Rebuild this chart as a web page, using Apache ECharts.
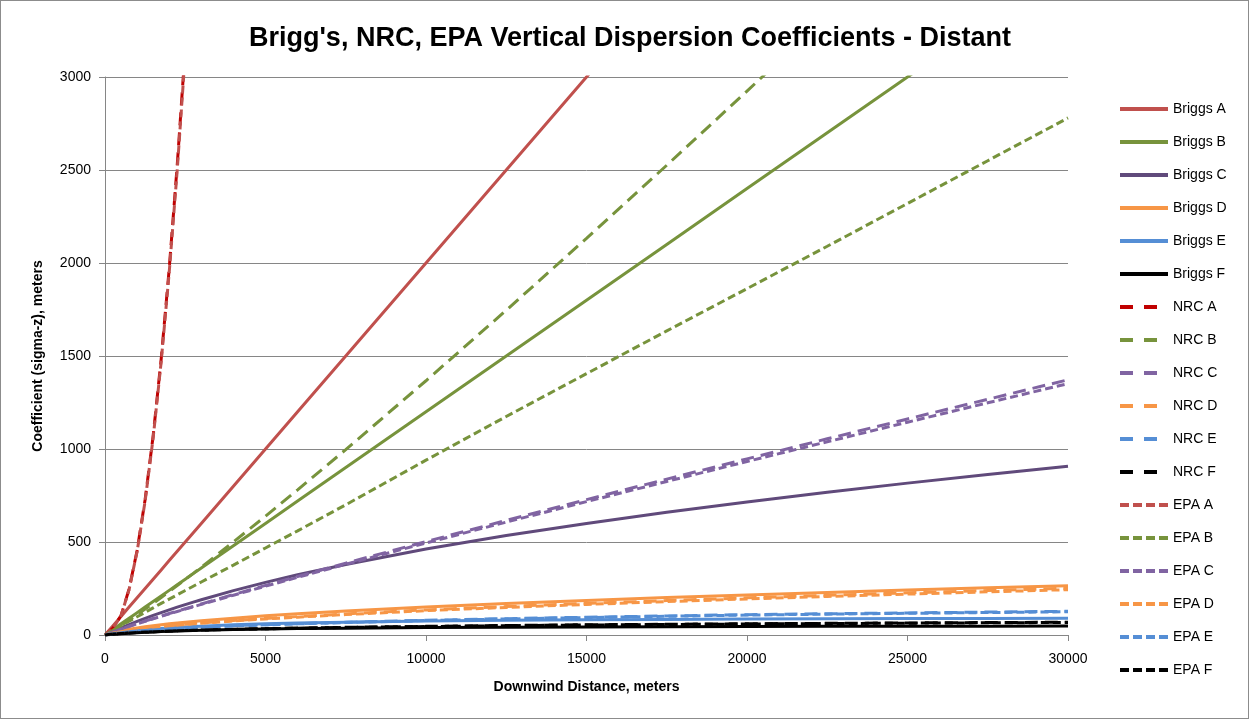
<!DOCTYPE html>
<html>
<head>
<meta charset="utf-8">
<script src="https://cdn.jsdelivr.net/npm/echarts@6/dist/echarts.min.js"></script>
<style>
html,body{margin:0;padding:0;background:#fff;}
#chart{width:1247px;height:717px;border:1px solid #8c8c8c;}
</style>
</head>
<body>
<div id="chart"></div>
<script>
const distance = [0,100,250,500,750,1000,1250,1500,1750,2000,2250,2500,2750,3000,4000,5000,6000,7500,10000,12500,15000,17500,20000,22500,25000,27500,30000];

const briggsA = [0,20,50,100,150,200,250,300,350,400,450,500,550,600,800,1000,1200,1500,2000,2500,3000,3500,null,null,null,null,null];
const briggsB = [0,12,30,60,90,120,150,180,210,240,270,300,330,360,480,600,720,900,1200,1500,1800,2100,2400,2700,3000,3300,3600];
const briggsC = [0,7.9,19.5,38.1,55.9,73.0,89.4,105.2,120.5,135.2,149.5,163.3,176.7,189.7,238.5,282.8,323.6,379.5,461.9,534.5,600.0,660.0,715.5,767.5,816.5,862.9,907.1];
const briggsD = [0,5.6,12.8,22.7,30.9,37.9,44.2,49.9,55.1,60.0,64.5,68.8,72.9,76.8,90.7,102.9,113.8,128.6,150.0,168.8,185.7,201.1,215.5,229.0,241.7,253.8,265.4];
const briggsE = [0,2.9,7.0,13.0,18.4,23.1,27.3,31.0,34.4,37.5,40.3,42.9,45.2,47.4,54.5,60.0,64.3,69.2,75.0,78.9,81.8,84.0,85.7,87.1,88.2,89.2,90.0];
const briggsF = [0,1.6,3.7,7.0,9.8,12.3,14.5,16.6,18.4,20.0,21.5,22.9,24.1,25.3,29.1,32.0,34.3,36.9,40.0,42.1,43.6,44.8,45.7,46.5,47.1,47.6,48.0];

const nrcA = [0,14.0,37.7,104.7,246.9,453.9,727.8,1070.6,1483.7,1968.4,2525.8,3156.6,null,null,null,null,null,null,null,null,null,null,null,null,null,null,null];
const nrcB = [0,10.6,25.2,51.1,79.7,109.3,139.6,170.5,202.0,233.8,266.1,298.7,331.6,364.8,500.2,639.0,780.4,996.9,1366.9,1746.0,2132.7,2525.5,2924.1,3327.5,null,null,null];
const nrcC = [0,7.4,17.2,32.4,47.0,61.1,75.0,88.6,102.0,115.3,128.4,141.4,154.2,167.0,217.3,266.5,314.8,386.1,502.3,616.1,727.9,838.1,946.9,1054.7,1161.5,1267.3,1372.2];
const nrcD = [0,4.7,10.3,18.3,25.4,32.1,37.1,41.7,46.0,50.2,54.1,57.9,61.6,65.1,77.5,88.7,99.0,113.3,134.9,153.0,169.7,185.1,199.7,213.4,226.6,239.1,251.2];
const nrcE = [0,3.5,7.5,12.8,17.4,21.6,24.9,27.9,30.8,33.5,35.8,38.0,40.2,42.2,49.8,55.7,61.1,68.4,79.1,87.8,95.6,102.7,109.3,114.3,118.9,123.2,127.3];
const nrcF = [0,2.3,4.9,8.4,11.5,14.0,16.1,18.0,19.9,21.6,23.1,24.4,25.7,27.0,30.8,34.2,37.2,41.2,46.4,50.9,54.9,57.7,60.3,62.7,64.9,66.9,68.8];

const epaA = [0,13.8,37.3,103.6,244.0,449.0,720.0,1060.0,1469.0,1949.0,2500.0,3125.0,null,null,null,null,null,null,null,null,null,null,null,null,null,null,null];
const epaB = [0,10,25,50,74,98,122,146,170,193,216,239,262,285,376,468,560,700,940,1175,1405,1635,1862,2090,2320,2550,2780];
const epaC = [0,7.3,16.9,31.9,46.3,60.2,73.9,87.3,100.5,113.6,126.5,139.3,151.9,164.5,214.0,262.5,310.1,380.3,494.8,606.9,717.0,825.5,932.7,1038.9,1144.1,1248.3,1351.6];
const epaD = [0,4.5,10.0,17.8,24.6,31.1,36.0,40.4,44.6,48.7,52.5,56.2,59.8,63.1,75.2,86.0,96.0,109.9,130.9,148.4,164.6,179.5,193.7,207.0,219.8,231.9,243.7];
const epaE = [0,3.5,7.3,12.5,17.1,21.2,24.4,27.3,30.2,32.8,35.1,37.2,39.4,41.4,48.8,54.6,59.9,67.0,77.5,86.0,93.7,100.6,107.1,112.0,116.5,120.7,124.8];
const epaF = [0,2.3,4.8,8.2,11.3,13.7,15.8,17.6,19.5,21.2,22.6,23.9,25.2,26.5,30.2,33.5,36.5,40.4,45.5,49.9,53.8,56.5,59.1,61.4,63.6,65.6,67.4];

const seriesNames = ['Briggs A','Briggs B','Briggs C','Briggs D','Briggs E','Briggs F','NRC A','NRC B','NRC C','NRC D','NRC E','NRC F','EPA A','EPA B','EPA C','EPA D','EPA E','EPA F'];
const seriesValues = [briggsA,briggsB,briggsC,briggsD,briggsE,briggsF,nrcA,nrcB,nrcC,nrcD,nrcE,nrcF,epaA,epaB,epaC,epaD,epaE,epaF];
const seriesColors = ['#C0504D','#77933C','#604A7B','#F79646','#558ED5','#000000','#C00000','#77933C','#8064A2','#F79646','#558ED5','#000000','#C0504D','#77933C','#8064A2','#F79646','#558ED5','#000000'];
const longDash = [13,7];
const shortDash = [8,4];
const seriesDash = ['solid','solid','solid','solid','solid','solid',longDash,longDash,longDash,longDash,longDash,longDash,shortDash,shortDash,shortDash,shortDash,shortDash,shortDash];
const legendDash = ['solid','solid','solid','solid','solid','solid',[13,11],[13,11],[13,11],[13,11],[13,11],[13,11],[9,4],[9,4],[9,4],[9,4],[9,4],[9,4]];

const series = seriesNames.map((name,i)=>({
  name: name,
  type: 'line',
  data: distance.map((x,j)=>[x, seriesValues[i][j]]),
  showSymbol: false,
  symbol: 'none',
  smooth: false,
  connectNulls: false,
  clip: true,
  animation: false,
  lineStyle: {color: seriesColors[i], width: 3, type: seriesDash[i], cap: 'butt'},
  itemStyle: {color: seriesColors[i]}
}));

const chart = echarts.init(document.getElementById('chart'));
chart.setOption({
  backgroundColor: '#fff',
  animation: false,
  textStyle: {fontFamily: 'Liberation Sans'},
  title: {
    text: "Brigg's, NRC, EPA Vertical Dispersion Coefficients - Distant",
    left: 624, top: 19, textAlign: 'center',
    textStyle: {fontSize: 27, fontWeight: 'bold', color: '#000', fontFamily: 'Liberation Sans'}
  },
  legend: {
    orient: 'vertical',
    left: 1112, top: 96,
    itemWidth: 48, itemHeight: 14, itemGap: 19,
    itemStyle: {opacity: 0, borderWidth: 0},
    textStyle: {fontSize: 14, color: '#000', fontFamily: 'Liberation Sans'},
    data: seriesNames.map((n,i)=>({name: n, lineStyle: {width: 4, type: legendDash[i], color: seriesColors[i], cap: 'butt'}}))
  },
  grid: {left: 104, right: 180, top: 76, bottom: 83, containLabel: false},
  xAxis: {
    type: 'value', min: 0, max: 30000, interval: 5000,
    name: 'Downwind Distance, meters', nameLocation: 'middle', nameGap: 45,
    nameTextStyle: {fontSize: 14, fontWeight: 'bold', color: '#000'},
    axisLine: {show: true, lineStyle: {color: '#868686', width: 1}},
    axisTick: {show: true, inside: false, length: 6, lineStyle: {color: '#868686'}},
    axisLabel: {fontSize: 14, color: '#000', margin: 17, formatter: v => String(v)},
    splitLine: {show: false}
  },
  yAxis: {
    type: 'value', min: 0, max: 3000, interval: 500,
    name: 'Coefficient (sigma-z), meters', nameLocation: 'middle', nameGap: 60, nameRotate: 90,
    nameTextStyle: {fontSize: 14, fontWeight: 'bold', color: '#000'},
    axisLine: {show: true, lineStyle: {color: '#868686', width: 1}},
    axisTick: {show: true, inside: false, length: 6, lineStyle: {color: '#868686'}},
    axisLabel: {fontSize: 14, color: '#000', margin: 14, formatter: v => String(v)},
    splitLine: {show: true, lineStyle: {color: '#868686', width: 1}}
  },
  series: series
});
</script>
</body>
</html>
